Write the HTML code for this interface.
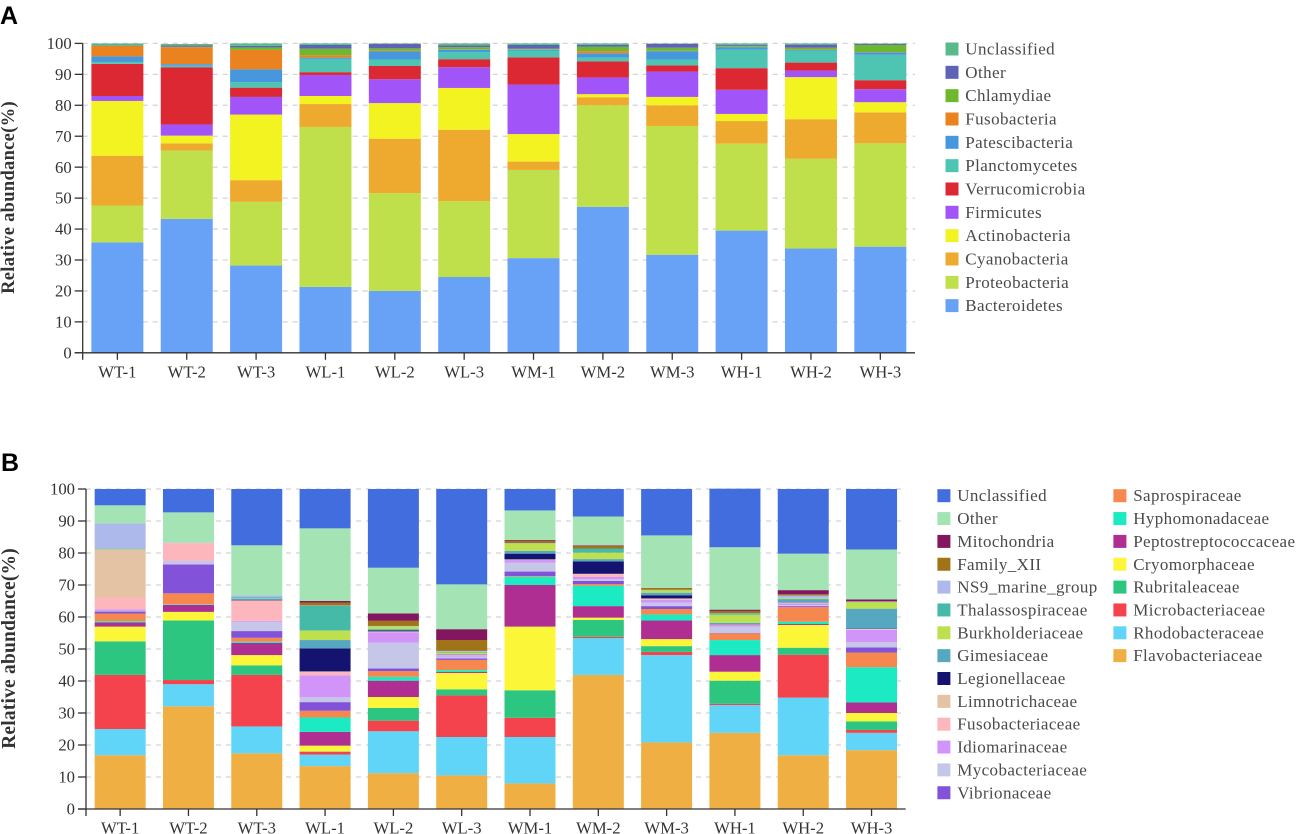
<!DOCTYPE html>
<html lang="en">
<head>
<meta charset="utf-8">
<title>Relative abundance stacked bar charts</title>
<style>
html,body{margin:0;padding:0;background:#fff;width:1299px;height:834px;overflow:hidden}
svg{display:block;position:absolute;left:0;top:0;filter:blur(0.3px)}
text{font-family:"Liberation Serif",serif}
</style>
</head>
<body>
<svg id="figure" xmlns="http://www.w3.org/2000/svg" width="1299" height="834" viewBox="0 0 1299 834">
  <text x="0" y="24" style="font-family:'Liberation Sans',sans-serif;font-weight:700;font-size:25px" fill="#000">A</text>
  <text x="1" y="471" style="font-family:'Liberation Sans',sans-serif;font-weight:700;font-size:25px" fill="#000">B</text>
  <g id="chart-a"></g>
  <g id="chart-b"></g>
</svg>
<script>
const samples = ["WT-1","WT-2","WT-3","WL-1","WL-2","WL-3","WM-1","WM-2","WM-3","WH-1","WH-2","WH-3"];
const yTicks = [0,10,20,30,40,50,60,70,80,90,100];
const yTitle = "Relative abundance(%)";

/* Panel A: phylum level, stack order bottom to top */
const bacteroidetes   = [35.7,43.3,28.2,21.3,20,24.5,30.6,47.2,31.7,39.5,33.7,34.3];
const proteobacteria  = [11.9,22.1,20.6,51.7,31.6,24.5,28.5,32.8,41.6,28.1,29,33.4];
const cyanobacteria   = [16.1,2.3,7,7.4,17.6,23.1,2.7,2.6,6.7,7.3,12.8,10];
const actinobacteria  = [17.7,2.5,21.2,2.6,11.5,13.5,8.9,1,2.7,2.3,13.6,3.3];
const firmicutes      = [1.6,3.6,5.7,6.8,7.7,6.7,16,5.4,8.2,7.8,2.1,4.2];
const verrucomicrobia = [10.4,18.5,3,0.9,4.3,2.6,8.8,5.2,2,7,2.6,2.9];
const planctomycetes  = [0.6,0.5,1.8,4.3,2.1,2.3,2.2,1.2,1.9,6,3.8,8.2];
const patescibacteria = [1.8,0.5,4.1,0.4,2.6,0.8,0.3,1.4,2.7,0.8,0.3,0.8];
const fusobacteria    = [3.4,5.5,6.3,0.8,0.2,0.1,0.1,0.7,0.1,0.1,0.1,0.1];
const chlamydiae      = [0,0.1,0.8,2.1,0.8,0.7,0.2,1.4,1,0.3,0.6,2.3];
const otherA          = [0.1,0.4,0.5,1.2,1.4,0.6,1.2,0.6,1.3,0.3,1,0.4];
const unclassifiedA   = [0.7,0.5,0.8,0.5,0.2,0.6,0.5,0.5,0.1,0.5,0.4,0.1];

/* Panel B: family level, stack order bottom to top */
const flavobacteriaceae   = [16.8,32.1,17.4,13.4,11.2,10.5,8,41.9,20.8,23.8,16.8,18.4];
const rhodobacteraceae    = [8.2,6.9,8.4,3.6,13.1,12,14.5,11.5,27.3,8.7,18,5.4];
const microbacteriaceae   = [16.9,1.3,16.1,0.9,3.3,13,6,0.4,1,0.4,13.4,0.9];
const rubritaleaceae      = [10.5,18.6,3,0.1,4,1.9,8.6,5.3,1.8,7.2,2.2,2.7];
const cryomorphaceae      = [4.6,2.7,3.2,1.8,3.4,5.1,19.9,0.7,2.2,2.8,7.1,2.6];
const peptostreptococcaceae = [1.3,2.2,3.8,4.3,5.1,0.3,13,3.6,5.8,5.2,0.3,3.3];
const hyphomonadaceae     = [0.4,0.2,0.4,4.5,1.2,0.6,2.6,6.4,1.9,4.7,0.7,11];
const saprospiraceae      = [2.4,3.4,1.2,2.1,1.8,3.2,0.2,0.5,1.7,2.1,4.6,4.6];
const vibrionaceae        = [0.6,9,2.1,2.7,0.8,0.5,1.4,1,0.9,0.1,0.3,1.6];
const mycobacteriaceae    = [0.2,1.1,2.9,1.5,8.1,0.5,2.8,0.5,1.1,2,0.3,1.6];
const idiomarinaceae      = [0.5,0.1,0.3,6.9,3.2,0.4,0.8,0.7,0.9,0.5,0.6,3.9];
const fusobacteriaceae    = [3.7,5.5,6.3,1,0.2,0.2,0.1,0.9,0.3,0.1,0.1,0.2];
const limnotrichaceae     = [15,0.1,0.1,0.2,0.1,0.1,0.1,0.1,0.1,0.1,0.1,0.1];
const legionellaceae      = [0,0,0.2,7.2,0.3,0.1,1.8,3.9,1,0.1,0.1,0.1];
const gimesiaceae         = [0.1,0,0.3,2.6,0.4,0.1,0.9,0.7,0.8,0.4,1,6.2];
const burkholderiaceae    = [0.1,0,0.1,3,0.8,0.4,2.2,2,0.7,2.5,0.3,2];
const thalassospiraceae   = [0.1,0,0.3,7.7,0.1,0.2,0.1,1.3,0.1,0.4,0.1,0.1];
const ns9MarineGroup      = [7.9,0.1,0.7,0.1,0.1,0.3,0.1,0,0.1,0.1,0.7,0.1];
const familyXII           = [0,0,0,0.9,1.6,3.4,0.8,0.8,0.6,0.7,0.4,0.1];
const mitochondria        = [0,0,0,0.5,2.3,3.4,0.2,0.2,0,0.4,1.3,0.6];
const otherB              = [5.6,9.4,15.6,22.7,14.3,14,9.2,9,16.4,19.5,11.4,15.6];
const unclassifiedB       = [5.1,7.3,17.6,12.3,24.6,29.8,6.7,8.6,14.5,18.3,20.2,18.9];

const namesA = ["Bacteroidetes","Proteobacteria","Cyanobacteria","Actinobacteria","Firmicutes","Verrucomicrobia","Planctomycetes","Patescibacteria","Fusobacteria","Chlamydiae","Other","Unclassified"];
const valuesA = [bacteroidetes,proteobacteria,cyanobacteria,actinobacteria,firmicutes,verrucomicrobia,planctomycetes,patescibacteria,fusobacteria,chlamydiae,otherA,unclassifiedA];
const colorsA = ["#68a2f7","#bfe04a","#edaa2e","#f3f321","#a155f9","#dc2832","#4ec5b3","#4797df","#e9821f","#6eb82e","#5f63b5","#5ab98a"];

const namesB = ["Flavobacteriaceae","Rhodobacteraceae","Microbacteriaceae","Rubritaleaceae","Cryomorphaceae","Peptostreptococcaceae","Hyphomonadaceae","Saprospiraceae","Vibrionaceae","Mycobacteriaceae","Idiomarinaceae","Fusobacteriaceae","Limnotrichaceae","Legionellaceae","Gimesiaceae","Burkholderiaceae","Thalassospiraceae","NS9_marine_group","Family_XII","Mitochondria","Other","Unclassified"];
const valuesB = [flavobacteriaceae,rhodobacteraceae,microbacteriaceae,rubritaleaceae,cryomorphaceae,peptostreptococcaceae,hyphomonadaceae,saprospiraceae,vibrionaceae,mycobacteriaceae,idiomarinaceae,fusobacteriaceae,limnotrichaceae,legionellaceae,gimesiaceae,burkholderiaceae,thalassospiraceae,ns9MarineGroup,familyXII,mitochondria,otherB,unclassifiedB];
const colorsB = ["#f0af42","#60d5f8","#f4434c","#2cc681","#fcf638","#ae2e92","#1ceac2","#f5874f","#8252d8","#c6c6e8","#d194f8","#fdb6bb","#e4c3a5","#141470","#56a8c0","#bfe04e","#45baa8","#adb9ea","#a07416","#82165f","#a4e4b4","#416ddf"];

const SVG_NS = "http://www.w3.org/2000/svg";
function make(parent, tag, attrs, content) {
  const el = document.createElementNS(SVG_NS, tag);
  for (const k in attrs) el.setAttribute(k, attrs[k]);
  if (content !== undefined) el.textContent = content;
  parent.appendChild(el);
  return el;
}
function slug(s) { return s.toLowerCase().replace(/[^a-z0-9]+/g, "-"); }

function drawChart(root, names, values, colors, cfg) {
  const y = v => cfg.y0 - (v / 100) * (cfg.y0 - cfg.y100);
  const band = (cfg.axisEnd - cfg.axisX) / samples.length;
  const x = i => cfg.axisX + band * (i + 0.5);

  yTicks.forEach(t => {
    if (t > 0) {
      const grid = make(root, "line", {x1: cfg.axisX, x2: cfg.axisEnd, y1: y(t), y2: y(t), stroke: "#d4d4d4", "stroke-width": 1.3, "stroke-dasharray": "5 5"});
      
      
    }
  });

  samples.forEach((label, i) => {
    let cum = 0;
    names.forEach((name, s) => {
      const v = values[s][i];
      if (v > 0) {
        const bar = make(root, "rect", {x: x(i) - cfg.barW / 2, y: y(cum + v), width: cfg.barW, height: y(cum) - y(cum + v), fill: colors[s]});
        
        
      }
      cum += v;
    });
  });

  const yAxis = make(root, "line", {x1: cfg.axisX, x2: cfg.axisX, y1: cfg.y100, y2: cfg.y0 + 7, stroke: "#333", "stroke-width": 1.3});
  
  
  const xAxis = make(root, "line", {x1: cfg.axisX - 8, x2: cfg.axisEnd, y1: cfg.y0, y2: cfg.y0, stroke: "#333", "stroke-width": 1.3});
  
  

  yTicks.forEach(t => {
    const tick = make(root, "line", {x1: cfg.axisX - 8, x2: cfg.axisX, y1: y(t), y2: y(t), stroke: "#333", "stroke-width": 1.3});
    
    
    const lab = make(root, "text", {x: cfg.axisX - 11, y: y(t) + 5.6, "text-anchor": "end", "font-size": 16.7, fill: "#333"}, String(t));
    
    
  });

  samples.forEach((label, i) => {
    const tick = make(root, "line", {x1: x(i), x2: x(i), y1: cfg.y0, y2: cfg.y0 + 7, stroke: "#333", "stroke-width": 1.3});
    
    
    const lab = make(root, "text", {x: x(i), y: cfg.labelY, "text-anchor": "middle", "font-size": 16.7, fill: "#333"}, label);
    
    
  });

  const title = make(root, "text", {transform: "translate(" + cfg.titleX + "," + cfg.titleY + ") rotate(-90)", "text-anchor": "middle", "font-size": cfg.titleSize, "letter-spacing": cfg.titleSpacing, "font-weight": 700, fill: "#333"}, yTitle);
  
  

  const reversed = names.map((n, s) => s).reverse();
  reversed.forEach((s, idx) => {
    const col = idx < cfg.legendPerCol ? 0 : 1;
    const row = col === 0 ? idx : idx - cfg.legendPerCol;
    const g = make(root, "g", {});
    
    
    const cy = cfg.legendY + row * cfg.legendStep;
    const sw = make(g, "rect", {x: cfg.legendX[col], y: cy - 6.5, width: 13, height: 13, fill: colors[s]});
    
    
    const tx = make(g, "text", {x: cfg.legendX[col] + 19.8, y: cy + 5.5, "font-size": 17, "letter-spacing": 0.4, fill: "#4a4a4a"}, names[s]);
    
    
  });
}

drawChart(document.getElementById("chart-a"), namesA, valuesA, colorsA, {
  axisX: 82.7, axisEnd: 915, y0: 352.8, y100: 43.4, barW: 52, labelY: 377.5,
  titleX: 14, titleY: 197.5, titleSize: 18.5, titleSpacing: 0.3, legendX: [945.5], legendY: 49, legendStep: 23.33, legendPerCol: 12
});
drawChart(document.getElementById("chart-b"), namesB, valuesB, colorsB, {
  axisX: 86, axisEnd: 905.7, y0: 809, y100: 489, barW: 51, labelY: 833.5,
  titleX: 15, titleY: 648.5, titleSize: 19.5, titleSpacing: 0.2, legendX: [937.4, 1113.4], legendY: 495.7, legendStep: 22.85, legendPerCol: 14
});
</script>
</body>
</html>
